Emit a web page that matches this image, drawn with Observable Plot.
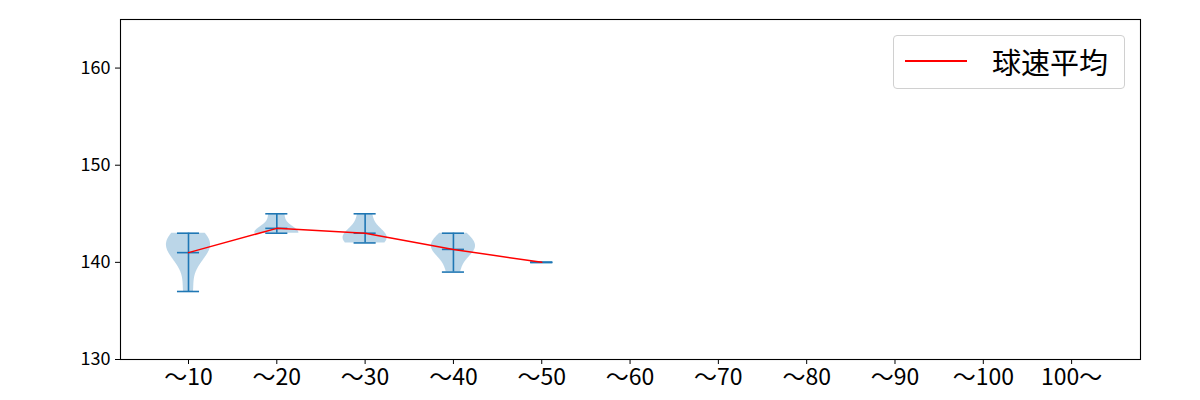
<!DOCTYPE html>
<html>
<head>
<meta charset="utf-8">
<script src="https://cdn.jsdelivr.net/npm/d3@7"></script>
<script src="https://cdn.jsdelivr.net/npm/@observablehq/plot@0.6"></script>
<style>
  html, body { margin: 0; padding: 0; background: #fff; }
  #wrap { position: relative; width: 1200px; height: 400px; font-family: "Noto Sans CJK JP", "Noto Sans", sans-serif; }
  #legend { position: absolute; left: 893px; top: 35px; width: 230px; height: 52px; border: 1px solid #d0d0d0; border-radius: 4px; background: rgba(255,255,255,0.8); box-sizing: content-box; }
  #legend .sw { position: absolute; left: 11px; top: 24px; width: 62px; height: 1.5px; background: #ff0000; }
  #legend .tx { position: absolute; left: 98px; top: 5px; font-size: 29px; line-height: 40px; color: #000; white-space: nowrap; }
</style>
</head>
<body>
<div id="wrap"></div>
<script>
// Categories (x tick labels)
const categories = ["～10", "～20", "～30", "～40", "～50", "～60", "～70", "～80", "～90", "～100", "100～"];
// Pitch speeds (km/h) per category
const speeds10 = [137, 140, 141, 142, 142, 142, 143];
const speeds20 = [143, 143, 143, 145];
const speeds30 = [142, 142, 143, 143, 145];
const speeds40 = [139, 141, 141, 142, 142, 143];
const speeds50 = [140];
const speeds60 = [];
const speeds70 = [];
const speeds80 = [];
const speeds90 = [];
const speeds100 = [];
const speeds100plus = [];
const yTicks = [130, 140, 150, 160];
const legendLabel = "球速平均";

const groups = [speeds10, speeds20, speeds30, speeds40, speeds50, speeds60, speeds70, speeds80, speeds90, speeds100, speeds100plus];
const positions = categories.map((_, i) => i + 1);

// matplotlib-style violin bodies (Gaussian KDE, Scott's rule, half width 0.25)
const bodies = [];
const stats = [];
const caps = [];
groups.forEach((vals, i) => {
  if (!vals.length) return;
  const pos = positions[i];
  const mn = d3.min(vals), mx = d3.max(vals), mean = d3.mean(vals);
  stats.push({pos, min: mn, max: mx, mean});
  caps.push({pos, v: mn}, {pos, v: mx}, {pos, v: mean});
  if (vals.length < 2 || mn === mx) return;
  const sd = d3.deviation(vals);
  const bw = sd * Math.pow(vals.length, -1 / 5);
  const pts = d3.range(100).map(k => mn + (mx - mn) * k / 99);
  const dens = pts.map(y => d3.sum(vals, v => Math.exp(-0.5 * ((y - v) / bw) ** 2)));
  const dmax = d3.max(dens);
  pts.forEach((y, k) => {
    const hw = dens[k] / dmax * 0.25;
    bodies.push({cat: categories[i], y, x1: pos - hw, x2: pos + hw});
  });
});

const C0 = "#1f77b4";
const chart = Plot.plot({
  width: 1200,
  height: 400,
  marginLeft: 120,
  marginRight: 60,
  marginTop: 19,
  marginBottom: 41,
  style: {fontFamily: "'Noto Sans CJK JP', 'Noto Sans', sans-serif", background: "#fff", color: "#000"},
  x: {type: "linear", domain: [0.23, 11.78]},
  y: {domain: [130, 165]},
  marks: [
    Plot.areaX(bodies, {y: "y", x1: "x1", x2: "x2", z: "cat", fill: C0, fillOpacity: 0.3, curve: "linear"}),
    Plot.ruleX(stats, {x: "pos", y1: "min", y2: "max", stroke: C0, strokeWidth: 1.6}),
    Plot.ruleY(caps, {y: "v", x1: d => d.pos - 0.125, x2: d => d.pos + 0.125, stroke: C0, strokeWidth: 1.6}),
    Plot.line(stats, {x: "pos", y: "mean", stroke: "red", strokeWidth: 1.5}),
    Plot.axisX({ticks: positions, tickFormat: d => categories[d - 1], fontSize: 23, tickSize: 5, tickPadding: 4, label: null, stroke: "#000"}),
    Plot.axisY({ticks: yTicks, tickFormat: d => String(d), fontSize: 18, tickSize: 5, tickPadding: 5, label: null, stroke: "#000"}),
    Plot.frame({stroke: "#000", strokeWidth: 1.1})
  ]
});

const wrap = document.getElementById("wrap");
wrap.appendChild(chart);
const legend = document.createElement("div");
legend.id = "legend";
legend.innerHTML = `<div class="sw"></div><div class="tx"></div>`;
legend.querySelector(".tx").textContent = legendLabel;
wrap.appendChild(legend);
</script>
</body>
</html>
